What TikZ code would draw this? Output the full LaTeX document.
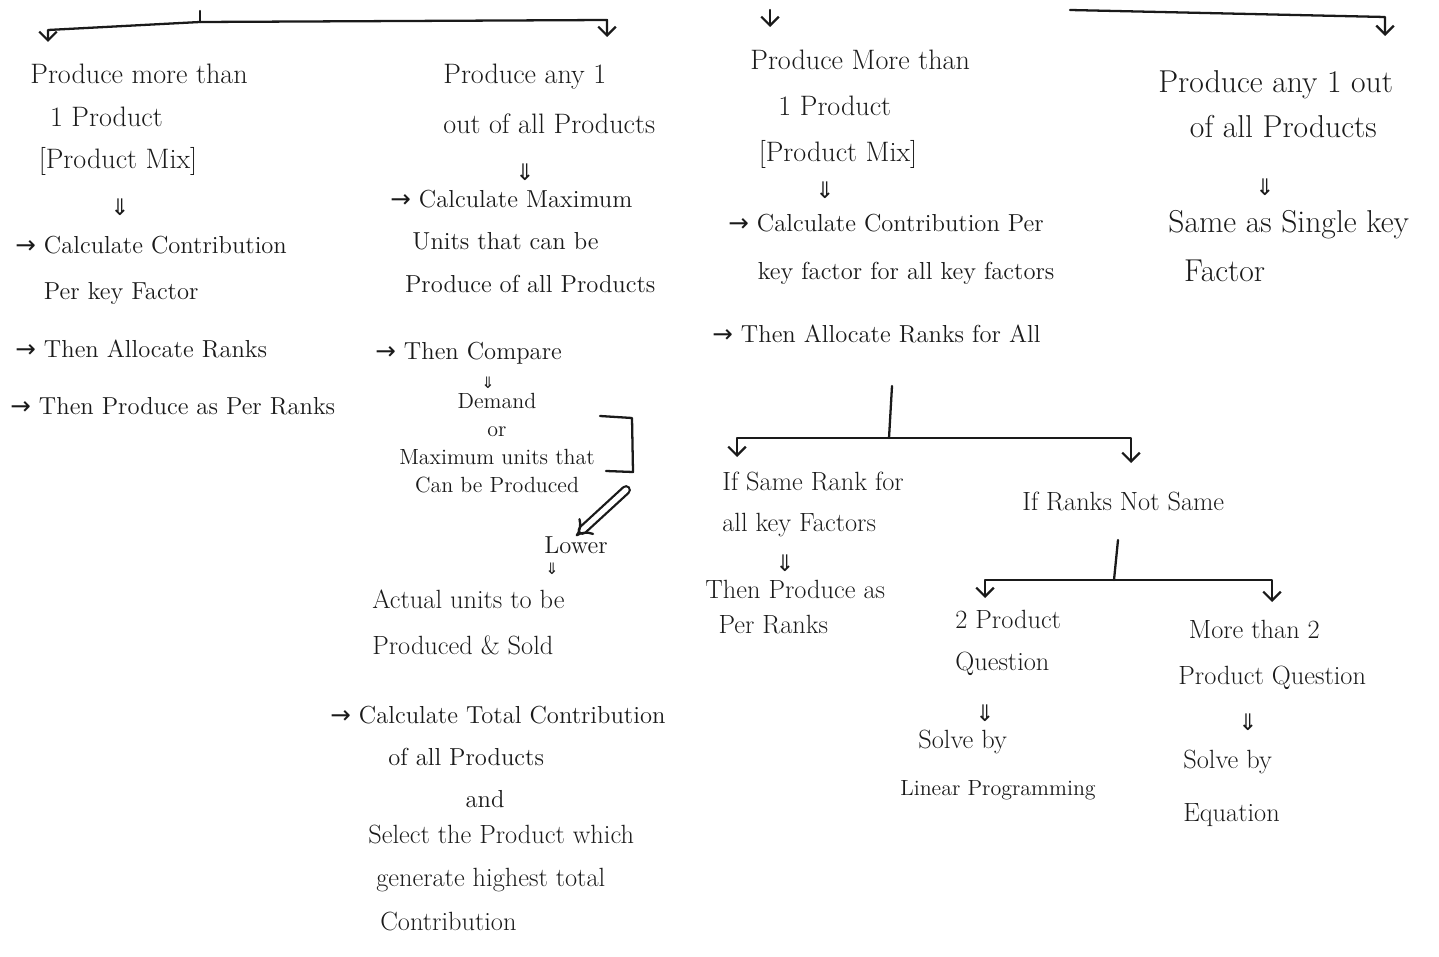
\documentclass[tikz,border=0pt]{standalone}
\usepackage{fontspec}
\newfontfamily\symf{DejaVu Sans}
\usetikzlibrary{arrows.meta}
\newcommand{\ra}{{\symf →}\ }
\newcommand{\dn}{{\symf ⇓}}
\definecolor{ink}{HTML}{1A1A1A}

\begin{document}
\begin{tikzpicture}[x=0.02cm,y=-0.02cm,
  every node/.style={text=ink},
  head/.style={anchor=north west,inner sep=0pt,align=left,font=\fontsize{16}{24}\selectfont},
  mid/.style={anchor=north west,inner sep=0pt,align=left,font=\fontsize{15}{24}\selectfont},
  body/.style={anchor=north west,inner sep=0pt,align=left,font=\fontsize{14}{24}\selectfont},
  small/.style={anchor=north west,inner sep=0pt,align=left,font=\fontsize{12.5}{16}\selectfont},
  dbl/.style={inner sep=0pt,font=\fontsize{13}{13}\selectfont},
  tiny dbl/.style={inner sep=0pt,font=\fontsize{9}{9}\selectfont},
  line/.style={draw=ink,line width=1.3pt,line cap=round,line join=round},
  arr/.style={line,-{Straight Barb[length=5pt,width=10pt]}},
  implies/.style={line,double,double distance=3pt,-{Implies}},
]
\useasboundingbox (0,0) rectangle (1439,956);

% ---------- top branches ----------
\coordinate (r1) at (200,11);
\coordinate (r1b) at (200,22);
\coordinate (k1) at (48,30);
\coordinate (a1) at (48,42);
\coordinate (k2) at (607,20);
\coordinate (a2) at (607,37);
\draw[line] (r1) -- (r1b);
\draw[arr] (r1b) -- (k1) -- (a1);
\draw[arr] (r1b) -- (k2) -- (a2);

\coordinate (s3) at (770,10);
\coordinate (a3) at (770,27);
\draw[arr] (s3) -- (a3);

\coordinate (k5) at (1070,10);
\coordinate (k6) at (1385,17);
\coordinate (a4) at (1385,36);
\draw[arr] (k5) -- (k6) -- (a4);

% ---------- column 1 ----------
\node[head] (c1h) at (30,64) {Produce more than\\\hspace{0.7em}1 Product\\\hspace{0.3em}[Product Mix]};
\node[dbl] (c1d) at (120,207) {\dn};
\node[body] (c1a) at (15,236) {\ra Calculate Contribution\\[2pt]\phantom{\ra}Per key Factor};
\node[body] (c1b) at (15,340) {\ra Then Allocate Ranks};
\node[body] (c1c) at (10,397) {\ra Then Produce as Per Ranks};

% ---------- column 2 ----------
\node[head] (c2h) at (443,64) {Produce any 1\\[4pt]out of all Products};
\node[dbl] (c2d) at (525,172) {\dn};
\node[body] (c2a) at (390,190) {\ra Calculate Maximum\\\hspace{0.9em}Units that can be\\\hspace{0.6em}Produce of all Products};
\node[body] (c2b) at (375,342) {\ra Then Compare};
\node[tiny dbl] (c2e) at (488,383) {\dn};
\node[small,anchor=north,align=center] (c2c) at (497,393) {Demand\\or\\Maximum units that\\Can be Produced};
\draw[line] (600,416) -- (632,418) -- (633,472) -- (606,471);
\coordinate (brk) at (626,490);
\node[body] (c2low) at (544,536) {Lower};
\draw[implies] (brk) -- (c2low.north);
\node[tiny dbl] (c2f) at (552,569) {\dn};
\node[mid] (c2g) at (372,590) {Actual units to be\\[2pt]Produced \& Sold};
\node[body] (c2t1) at (330,706) {\ra Calculate Total Contribution};
\node[body] (c2t2) at (388,748) {of all Products};
\node[body,anchor=north] (c2t3) at (485,790) {and};
\node[mid] (c2t4) at (368,825) {Select the Product which};
\node[mid] (c2t5) at (376,868) {generate highest total};
\node[mid] (c2t6) at (380,912) {Contribution};

% ---------- column 3 ----------
\node[head] (c3h) at (750,50) {Produce More than\\[2pt]\hspace{1em}1 Product\\[2pt]\hspace{0.3em}[Product Mix]};
\node[dbl] (c3d) at (825,190) {\dn};
\node[body] (c3a) at (728,214) {\ra Calculate Contribution Per\\[3pt]\hspace{1.2em}key factor for all key factors};
\node[body] (c3b) at (712,325) {\ra Then Allocate Ranks for All};

\coordinate (t3a) at (892,386);
\coordinate (t3b) at (889,438);
\coordinate (a3l) at (737,457);
\coordinate (a3r) at (1131,463);
\draw[line] (t3a) -- (t3b);
\draw[arr] (t3b) -| (a3l);
\draw[arr] (t3b) -| (a3r);

\node[mid] (c3s) at (722,472) {If Same Rank for\\[-1pt]all key Factors};
\node[dbl] (c3s2) at (785,563) {\dn};
\node[mid] (c3t) at (705,580) {Then Produce as\\[-4pt]\hspace{0.5em}Per Ranks};

\node[mid] (c3n) at (1022,492) {If Ranks Not Same};
\coordinate (t4a) at (1118,540);
\coordinate (t4b) at (1114,580);
\coordinate (a4l) at (985,598);
\coordinate (a4r) at (1272,602);
\draw[line] (t4a) -- (t4b);
\draw[arr] (t4b) -| (a4l);
\draw[arr] (t4b) -| (a4r);

\node[mid] (c3q) at (955,610) {2 Product\\Question};
\node[dbl] (c3q2) at (985,713) {\dn};
\node[mid] (c3l) at (918,730) {Solve by};
\node[small] (c3l2) at (900,780) {Linear Programming};

\node[mid] (c3m) at (1178,620) {\hspace{0.4em}More than 2\\[2pt]Product Question};
\node[dbl] (c3m2) at (1248,722) {\dn};
\node[mid] (c3e) at (1183,750) {Solve by\\[6pt]Equation};

% ---------- column 4 ----------
\node[head,font=\fontsize{18}{26}\selectfont] (c4h) at (1158,70) {Produce any 1 out\\\hspace{1em}of all Products};
\node[dbl] (c4d) at (1265,187) {\dn};
\node[head,font=\fontsize{18}{28}\selectfont] (c4s) at (1168,210) {Same as Single key\\\hspace{0.5em}Factor};
\end{tikzpicture}
\end{document}
